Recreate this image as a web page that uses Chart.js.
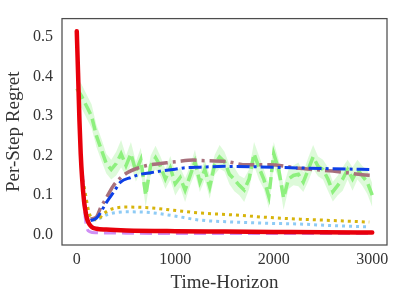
<!DOCTYPE html>
<html><head><meta charset="utf-8">
<script src="https://cdn.jsdelivr.net/npm/chart.js@4/dist/chart.umd.min.js"></script>
<style>html,body{margin:0;padding:0;background:#fff}canvas{display:block}</style>
</head><body>
<canvas id="c" width="398" height="300"></canvas>
<script>
const xTicks = [0, 1000, 2000, 3000];
const yTicks = [0.0, 0.1, 0.2, 0.3, 0.4, 0.5];

const redX = [0, 13, 27, 40, 55, 74, 90, 101, 120, 150, 200, 300, 500, 1000, 1500, 2000, 2500, 3000];
const redY = [0.515, 0.41, 0.29, 0.205, 0.14, 0.085, 0.058, 0.044, 0.03, 0.02, 0.015, 0.013, 0.011, 0.009, 0.008, 0.007, 0.006, 0.0055];

const purpleX = [60, 80, 100, 130, 200, 500, 1000, 2000, 3000];
const purpleY = [0.15, 0.06, 0.02, 0.008, 0.005, 0.004, 0.003, 0.003, 0.003];

const brownX = [140, 200, 242, 300, 375, 450, 512, 600, 747, 850, 1017, 1182, 1252, 1520, 1724, 1960, 2260, 2600, 2900, 3000];
const brownY = [0.04, 0.045, 0.068, 0.093, 0.125, 0.145, 0.157, 0.167, 0.177, 0.18, 0.185, 0.189, 0.188, 0.185, 0.177, 0.177, 0.168, 0.161, 0.152, 0.15];

const blueX = [140, 200, 310, 375, 444, 550, 646, 750, 848, 1000, 1083, 1252, 1500, 1800, 2100, 2262, 2600, 2970];
const blueY = [0.036, 0.042, 0.085, 0.108, 0.133, 0.145, 0.153, 0.157, 0.161, 0.166, 0.169, 0.171, 0.173, 0.172, 0.17, 0.169, 0.167, 0.165];

const goldX = [60, 90, 120, 160, 209, 272, 343, 512, 747, 980, 1252, 1600, 1926, 2300, 2600, 2970];
const goldY = [0.14, 0.1, 0.06, 0.04, 0.038, 0.053, 0.064, 0.070, 0.068, 0.062, 0.055, 0.050, 0.044, 0.039, 0.036, 0.032];

const lightX = [60, 90, 120, 170, 220, 320, 512, 747, 980, 1252, 1600, 1926, 2262, 2600, 2970];
const lightY = [0.14, 0.1, 0.055, 0.037, 0.04, 0.052, 0.058, 0.056, 0.048, 0.037, 0.032, 0.029, 0.027, 0.023, 0.020];

const greenX = [0,50,100,150,200,250,300,350,400,450,500,550,600,650,700,750,800,850,900,950,1000,1050,1100,1150,1200,1250,1300,1350,1400,1450,1500,1550,1600,1650,1700,1750,1800,1850,1900,1950,2000,2050,2100,2150,2200,2250,2300,2350,2400,2450,2500,2550,2600,2650,2700,2750,2800,2850,2900,2950,3000];
const greenY = [0.37,0.35,0.325,0.30,0.25,0.215,0.18,0.165,0.18,0.205,0.175,0.205,0.16,0.19,0.10,0.175,0.195,0.173,0.141,0.169,0.129,0.145,0.113,0.149,0.185,0.133,0.165,0.121,0.177,0.197,0.185,0.153,0.14,0.125,0.113,0.141,0.205,0.17,0.14,0.097,0.205,0.165,0.093,0.141,0.15,0.153,0.133,0.165,0.197,0.173,0.165,0.141,0.109,0.125,0.141,0.165,0.141,0.165,0.149,0.133,0.10];
const greenSpread = [0.03,0.03,0.03,0.03,0.028,0.028,0.025,0.025,0.03,0.035,0.025,0.03,0.025,0.03,0.03,0.025,0.03,0.025,0.025,0.03,0.03,0.025,0.03,0.025,0.03,0.025,0.025,0.03,0.025,0.03,0.025,0.025,0.03,0.025,0.03,0.025,0.03,0.03,0.025,0.03,0.03,0.025,0.03,0.025,0.025,0.03,0.025,0.03,0.03,0.025,0.025,0.03,0.025,0.025,0.03,0.025,0.03,0.025,0.025,0.03,0.03];

const pts = (xs, ys) => xs.map((x, i) => ({x: x, y: ys[i]}));
const greenUp = greenX.map((x, i) => ({x: x, y: greenY[i] + greenSpread[i]}));
const greenLo = greenX.map((x, i) => ({x: x, y: greenY[i] - greenSpread[i]}));

const FONT = "'Liberation Serif', 'DejaVu Serif', serif";
const line = (data, color, width, dash, extra) => Object.assign({
  data: data, borderColor: color, backgroundColor: color, borderWidth: width,
  borderDash: dash, pointRadius: 0, fill: false, tension: 0
}, extra || {});

const frame = {
  id: 'frame',
  afterDraw(chart) {
    const a = chart.chartArea, ctx = chart.ctx;
    ctx.save();
    ctx.strokeStyle = '#4d4d4d';
    ctx.lineWidth = 1.25;
    ctx.strokeRect(a.left, a.top, a.right - a.left, a.bottom - a.top);
    ctx.restore();
  }
};

new Chart(document.getElementById('c'), {
  type: 'line',
  data: {
    datasets: [
      line(pts(redX, redY), '#e8000b', 4.5, [], {cubicInterpolationMode: 'monotone', borderCapStyle: 'round'}),
      line(pts(purpleX, purpleY), '#cf8ff5', 3, [12, 6], {cubicInterpolationMode: 'monotone'}),
      line(pts(blueX, blueY), '#0d3fe6', 3, [13, 4, 3, 4], {cubicInterpolationMode: 'monotone'}),
      line(pts(brownX, brownY), '#a8707c', 3.5, [16, 5, 3, 5], {cubicInterpolationMode: 'monotone'}),
      line(pts(goldX, goldY), '#d7b40c', 3, [3, 4], {cubicInterpolationMode: 'monotone'}),
      line(pts(lightX, lightY), '#8ecbf5', 3, [3, 4], {cubicInterpolationMode: 'monotone'}),
      line(pts(greenX, greenY), '#8ef07e', 3.5, [12, 5]),
      line(greenUp, 'rgba(0,0,0,0)', 0, [], {fill: '+1', backgroundColor: 'rgba(144,238,130,0.3)'}),
      line(greenLo, 'rgba(0,0,0,0)', 0, [])
    ]
  },
  options: {
    responsive: false, animation: false, devicePixelRatio: 1,
    layout: {padding: {top: 8, right: 11, left: 0, bottom: 0}},
    plugins: {legend: {display: false}, tooltip: {enabled: false}},
    scales: {
      x: {
        type: 'linear', min: -150, max: 3150,
        grid: {display: false, drawTicks: false}, border: {display: false},
        afterBuildTicks: s => { s.ticks = xTicks.map(v => ({value: v})); },
        afterFit: s => { s.height = 55; },
        ticks: {color: '#333', font: {family: FONT, size: 16}, padding: 5, maxRotation: 0, callback: v => String(v)},
        title: {display: true, text: 'Time-Horizon', color: '#333', font: {family: FONT, size: 19}, padding: {top: 0, bottom: 6}}
      },
      y: {
        type: 'linear', min: -0.026, max: 0.547,
        grid: {display: false, drawTicks: false}, border: {display: false},
        afterBuildTicks: s => { s.ticks = yTicks.map(v => ({value: v})); },
        afterFit: s => { s.width = 62; },
        ticks: {color: '#333', font: {family: FONT, size: 16}, padding: 9, callback: v => v.toFixed(1)},
        title: {display: true, text: 'Per-Step Regret', color: '#333', font: {family: FONT, size: 19}, padding: {top: 3, bottom: 0}}
      }
    }
  },
  plugins: [frame]
});
</script>
</body></html>
